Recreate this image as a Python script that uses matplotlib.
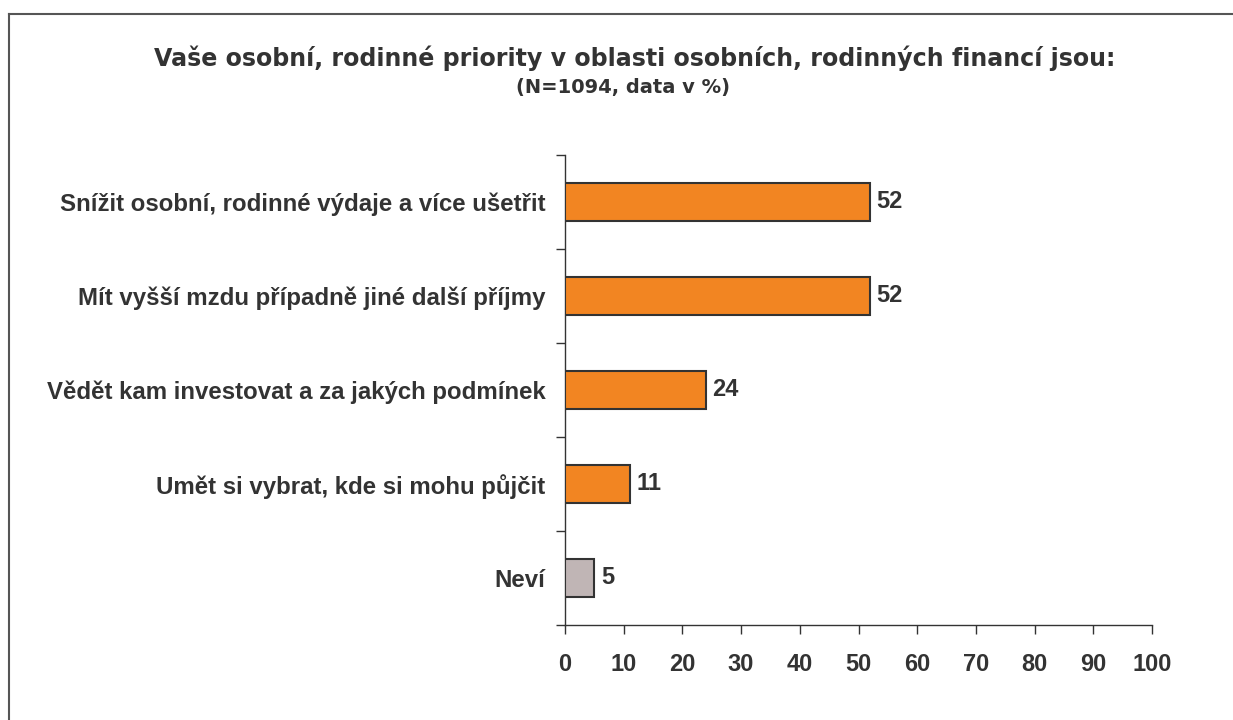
import matplotlib.pyplot as plt
from matplotlib.lines import Line2D

plt.rcParams['font.family'] = ['Liberation Sans', 'DejaVu Sans']

# data
categories = ['Snížit osobní, rodinné výdaje a více ušetřit',
              'Mít vyšší mzdu případně jiné další příjmy',
              'Vědět kam investovat a za jakých podmínek',
              'Umět si vybrat, kde si mohu půjčit',
              'Neví']
values = [52, 52, 24, 11, 5]
colors = ['#F28522', '#F28522', '#F28522', '#F28522', '#C0B5B5']
xticks = [0, 10, 20, 30, 40, 50, 60, 70, 80, 90, 100]

txt = '#333333'
wide = ['DejaVu Sans']

fig = plt.figure(figsize=(12.33, 7.2), dpi=100)
ax = fig.add_axes([565 / 1233, 1 - 625 / 720, (1152 - 565) / 1233, (625 - 155) / 720])

pos = list(range(len(categories)))
ax.barh(pos, values, height=0.4, color=colors, edgecolor='#333333', linewidth=1.5, zorder=3)
for p, v in zip(pos, values):
    ax.text(v + 1.1, p, str(v), va='center', ha='left', fontsize=17, fontweight='bold', color=txt)

ax.set_ylim(len(categories) - 0.5, -0.5)
ax.set_xlim(0, 100)
ax.set_yticks(pos)
ax.set_yticklabels(categories, fontsize=17.3, fontweight='bold', color=txt)
ax.set_yticks([p - 0.5 for p in pos] + [len(pos) - 0.5], minor=True)
ax.tick_params(axis='y', which='major', length=0, pad=14)
ax.tick_params(axis='y', which='minor', length=6.5, width=1, color='#333333', direction='out')
ax.set_xticks(xticks)
ax.set_xticklabels([str(t) for t in xticks], fontsize=17, fontweight='bold', color=txt)
ax.tick_params(axis='x', length=6.5, width=1, color='#333333', direction='out', pad=14)

for s in ['top', 'right']:
    ax.spines[s].set_visible(False)
for s in ['left', 'bottom']:
    ax.spines[s].set_color('#333333')
    ax.spines[s].set_linewidth(1)

fig.text(634.5 / 1233, 1 - 58 / 720, 'Vaše osobní, rodinné priority v oblasti osobních, rodinných financí jsou:',
         ha='center', va='center', fontsize=17.1, fontweight='bold', color=txt, family=wide)
fig.text(623 / 1233, 1 - 87 / 720, '(N=1094, data v %)',
         ha='center', va='center', fontsize=14, fontweight='bold', color=txt, family=wide)

# frame around chart area
fig.add_artist(Line2D([9 / 1233, 9 / 1233], [0, 1 - 13.5 / 720], color='#555555', linewidth=1.5))
fig.add_artist(Line2D([9 / 1233, 1], [1 - 13.5 / 720, 1 - 13.5 / 720], color='#555555', linewidth=1.5))

fig.savefig('out.png', dpi=100, facecolor='white')
